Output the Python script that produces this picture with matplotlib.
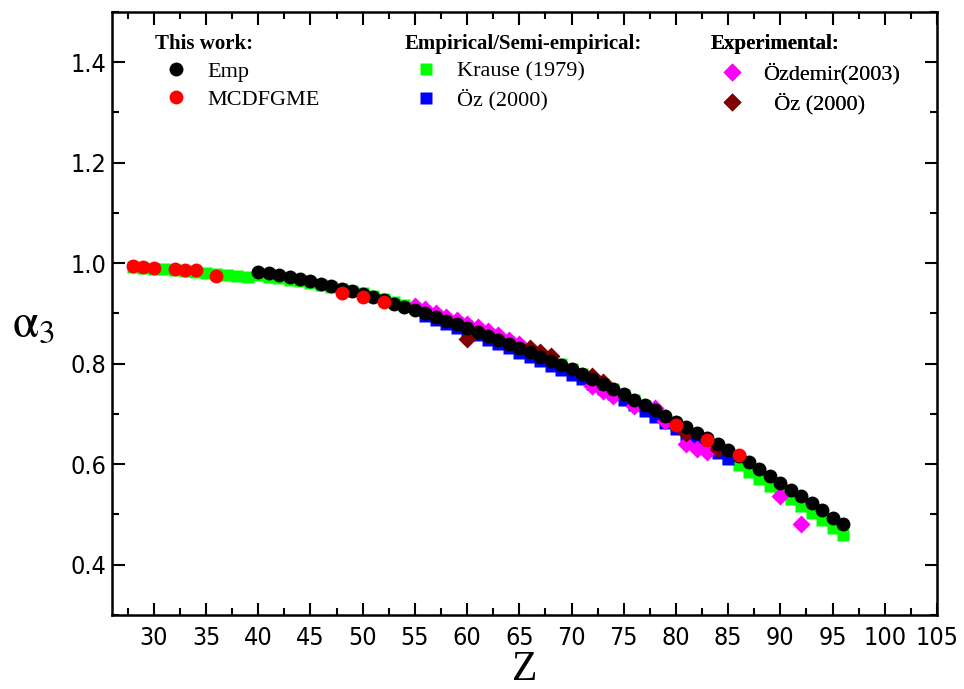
import numpy as np
import matplotlib
matplotlib.use("Agg")
import matplotlib.pyplot as plt
from matplotlib.ticker import MultipleLocator

plt.rcParams['mathtext.fontset'] = 'stix'

# This work: Emp (black circles)
z_emp = list(range(40, 97))
a_emp = [0.983, 0.980, 0.976, 0.972, 0.968, 0.964, 0.959, 0.954, 0.949, 0.944,
         0.938, 0.932, 0.926, 0.919, 0.913, 0.906, 0.900, 0.893, 0.886, 0.879,
         0.872, 0.864, 0.856, 0.848, 0.839, 0.831, 0.823, 0.814, 0.806, 0.797,
         0.789, 0.779, 0.769, 0.759, 0.749, 0.739, 0.728, 0.717, 0.707, 0.696,
         0.685, 0.674, 0.663, 0.652, 0.640, 0.629, 0.617, 0.604, 0.590, 0.576,
         0.562, 0.549, 0.536, 0.522, 0.508, 0.494, 0.481]

# This work: MCDFGME (red circles)
z_mcdf = [28, 29, 30, 32, 33, 34, 36, 48, 50, 52, 80, 83, 86]
a_mcdf = [0.995, 0.993, 0.991, 0.988, 0.987, 0.986, 0.974, 0.940, 0.932, 0.922,
          0.679, 0.649, 0.618]

# Krause (1979) (green squares)
z_krause = list(range(28, 97))
a_krause = [0.992, 0.991, 0.989, 0.988, 0.986, 0.985, 0.983, 0.981, 0.979, 0.977,
            0.975, 0.973, 0.976, 0.973, 0.970, 0.967, 0.964, 0.961, 0.957, 0.953,
            0.949, 0.945, 0.940, 0.935, 0.929, 0.923, 0.917, 0.911, 0.904, 0.897,
            0.890, 0.883, 0.876, 0.868, 0.860, 0.852, 0.843, 0.835, 0.826, 0.817,
            0.808, 0.799, 0.790, 0.780, 0.770, 0.760, 0.749, 0.738, 0.727, 0.715,
            0.703, 0.691, 0.679, 0.666, 0.653, 0.640, 0.627, 0.613, 0.599, 0.585,
            0.571, 0.557, 0.543, 0.530, 0.517, 0.503, 0.489, 0.474, 0.460]

# Oz (2000) empirical (blue squares)
z_oz_emp = list(range(56, 86))
a_oz_emp = [0.895, 0.888, 0.880, 0.872, 0.865, 0.857, 0.848, 0.840, 0.831, 0.822,
            0.814, 0.805, 0.796, 0.787, 0.778, 0.769, 0.759, 0.749, 0.739, 0.728,
            0.717, 0.706, 0.695, 0.683, 0.671, 0.659, 0.647, 0.634, 0.622, 0.610]

# Ozdemir (2003) experimental (magenta diamonds)
z_ozd = [55, 56, 57, 58, 59, 60, 61, 62, 63, 64, 65, 72, 73, 74, 76, 78, 79, 81, 82, 83, 90, 92]
a_ozd = [0.914, 0.908, 0.901, 0.894, 0.887, 0.880, 0.873, 0.865, 0.857, 0.848,
         0.839, 0.755, 0.746, 0.735, 0.715, 0.712, 0.686, 0.640, 0.630, 0.625,
         0.536, 0.482]

# Oz (2000) experimental (dark red diamonds)
z_oz_exp = [60, 66, 67, 68, 72, 73, 81, 84]
a_oz_exp = [0.850, 0.832, 0.823, 0.815, 0.776, 0.763, 0.662, 0.630]

serif = ['Liberation Serif', 'DejaVu Serif']

fig = plt.figure(figsize=(9.64, 6.89), dpi=100)
ax = fig.add_axes([0.1162, 0.1074, 0.8558, 0.8752])

kr, = ax.plot(z_krause, a_krause, 's', color='#00ff00', ms=8.5, mec='none', zorder=2)
ozx, = ax.plot(z_oz_emp, a_oz_emp, 's', color='#0000ff', ms=8.5, mec='none', zorder=3)
ozd, = ax.plot(z_ozd, a_ozd, 'D', color='#ff00ff', ms=9, mec='none', zorder=4)
oze, = ax.plot(z_oz_exp, a_oz_exp, 'D', color='#800000', ms=9, mec='none', zorder=5)
emp, = ax.plot(z_emp, a_emp, 'o', color='black', ms=10, mec='none', zorder=6)
mcd, = ax.plot(z_mcdf, a_mcdf, 'o', color='#ff0000', ms=10, mec='none', zorder=7)

ax.set_xlim(26, 105)
ax.set_ylim(0.3, 1.5)
ax.xaxis.set_minor_locator(MultipleLocator(2.5))
ax.yaxis.set_minor_locator(MultipleLocator(0.1))
ax.set_xticks(range(30, 106, 5))
ax.set_yticks([0.4, 0.6, 0.8, 1.0, 1.2, 1.4])
ax.tick_params(which='both', direction='in', top=True, right=True, width=1.5)
ax.tick_params(which='major', length=9)
ax.tick_params(which='minor', length=5)
ax.tick_params(axis='x', pad=8)
ax.tick_params(axis='y', pad=4)
for lab in ax.get_xticklabels() + ax.get_yticklabels():
    lab.set_fontfamily('DejaVu Sans')
    lab.set_fontstretch('condensed')
    lab.set_fontsize(18)
for sp in ax.spines.values():
    sp.set_linewidth(1.8)

ax.set_xlabel('Z', fontfamily=serif, fontsize=30, labelpad=0)
ax.set_ylabel(r'$\mathrm{\alpha}_{3}$', fontsize=34, rotation=0)
ax.yaxis.set_label_coords(-0.095, 0.445)

def make_legend(handles, labels, title, x, spacing):
    leg = ax.legend(handles, labels, title=title, loc='upper left',
                    bbox_to_anchor=(x, 0.963), frameon=False, borderpad=0,
                    borderaxespad=0, handlelength=1.9, handletextpad=0.45,
                    labelspacing=spacing, alignment='left',
                    prop={'family': serif, 'size': 16},
                    title_fontproperties={'family': serif, 'weight': 'bold', 'size': 15})
    ax.add_artist(leg)
    return leg

make_legend([emp, mcd], ['Emp', 'MCDFGME'], 'This work:', 0.052, 0.32)
make_legend([kr, ozx], ['Krause (1979)', 'Öz (2000)'], 'Empirical/Semi-empirical:', 0.355, 0.32)
make_legend([ozd, oze], ['Özdemir(2003)', '  Öz (2000)'], 'Experimental:', 0.726, 0.38)

fig.savefig('out.png', dpi=100)
